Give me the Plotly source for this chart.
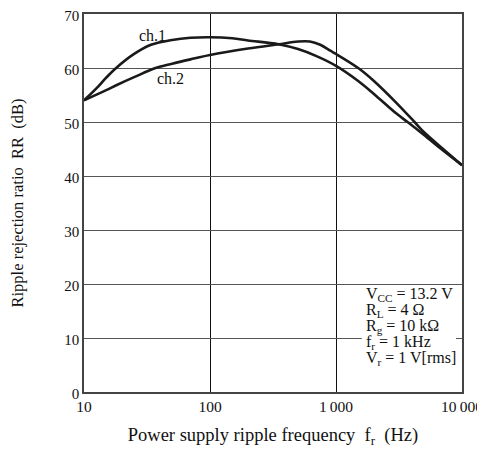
import plotly.graph_objects as go

# Data
ch1_freq = [10, 13, 15, 18, 25, 34, 50, 70, 100, 150, 200, 350, 500, 700, 1000, 1500, 2000, 3000, 3700, 5000, 7000, 10000]
ch1_rr   = [54.0, 56.6, 58.2, 60.0, 62.6, 64.3, 65.2, 65.6, 65.7, 65.5, 65.1, 64.4, 63.5, 62.2, 60.4, 57.6, 55.2, 51.6, 50.0, 47.6, 44.8, 42.0]

ch2_freq = [10, 15, 18.4, 25, 37, 50, 70, 100, 200, 350, 500, 620, 750, 900, 1000, 1500, 2000, 3000, 4200, 5000, 7000, 10000]
ch2_rr   = [54.0, 55.9, 56.9, 58.3, 60.0, 60.8, 61.6, 62.4, 63.6, 64.4, 64.9, 64.9, 64.3, 63.2, 62.6, 60.0, 57.6, 53.6, 50.0, 48.1, 45.1, 42.0]

x_tickvals = [10, 100, 1000, 10000]
x_ticktext = ["10", "100", "1\u2009000", "10\u2009000"]
y_tickvals = [0, 10, 20, 30, 40, 50, 60, 70]

conditions = [
    "V<sub>CC</sub> = 13.2 V",
    "R<sub>L</sub> = 4 \u03a9",
    "R<sub>g</sub> = 10 k\u03a9",
    "f<sub>r</sub> = 1 kHz",
    "V<sub>r</sub> = 1 V[rms]",
]

FONT = "Liberation Serif"
line_style = dict(color="#1a1a1a", width=2.6, shape="spline", smoothing=1.0)

fig = go.Figure()
fig.add_trace(go.Scatter(x=ch1_freq, y=ch1_rr, mode="lines", line=line_style, name="ch.1",
                         showlegend=False, hoverinfo="skip"))
fig.add_trace(go.Scatter(x=ch2_freq, y=ch2_rr, mode="lines", line=line_style, name="ch.2",
                         showlegend=False, hoverinfo="skip"))

# Curve labels (annotation x on a log axis is given in log10 units)
fig.add_annotation(x=1.54, y=66.1, xref="x", yref="y", text="ch.1", showarrow=False,
                   font=dict(family=FONT, size=16, color="#111"))
fig.add_annotation(x=1.69, y=58.0, xref="x", yref="y", text="ch.2", showarrow=False,
                   font=dict(family=FONT, size=16, color="#111"))

# White box behind the conditions
fig.add_shape(type="rect", xref="paper", yref="paper", x0=0.735, x1=0.984, y0=0.018, y1=0.278,
              fillcolor="white", line=dict(width=0), layer="above")

y0 = 0.257
for i, t in enumerate(conditions):
    fig.add_annotation(x=0.740, y=y0 - i * 0.0423, xref="paper", yref="paper", text=t,
                       showarrow=False, xanchor="left", yanchor="middle",
                       font=dict(family=FONT, size=16, color="#111"))

# the page body has an 8px margin, so the figure is sized to fit inside the window
fig.update_layout(
    width=477, height=441,
    margin=dict(l=76, r=23, t=6, b=57),
    paper_bgcolor="white", plot_bgcolor="white",
    font=dict(family=FONT, size=15, color="#111"),
    xaxis=dict(type="log", range=[1, 4], tickvals=x_tickvals, ticktext=x_ticktext,
               tickfont=dict(family=FONT, size=15.5),
               showgrid=True, gridcolor="#111", gridwidth=1.2,
               showline=True, linecolor="#444", linewidth=1.6, mirror=True,
               ticks="", zeroline=False, automargin=False, ticklabeloverflow="allow",
               title=dict(text="Power supply ripple frequency\u00a0 f<sub>r</sub>\u00a0 (Hz)",
                          font=dict(family=FONT, size=18.5), standoff=14)),
    yaxis=dict(range=[0, 70], tickvals=y_tickvals,
               tickfont=dict(family=FONT, size=15), ticklabelshift=2,
               showgrid=True, gridcolor="#555", gridwidth=1.2,
               showline=True, linecolor="#444", linewidth=1.6, mirror=True,
               ticks="", zeroline=False, automargin=False, ticklabeloverflow="allow",
               title=dict(text="Ripple rejection ratio\u00a0 RR\u00a0 (dB)\u00a0\u00a0\u00a0\u00a0",
                          font=dict(family=FONT, size=16.5), standoff=39)),
)

fig.write_html("out.html")
